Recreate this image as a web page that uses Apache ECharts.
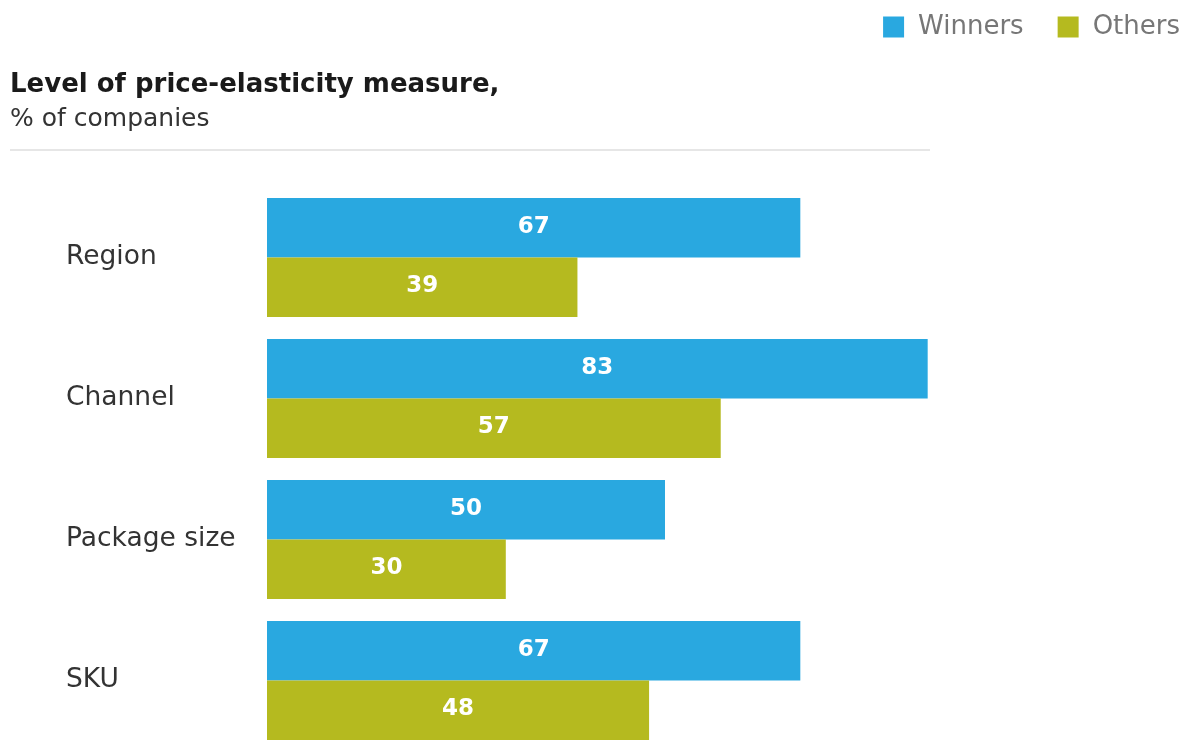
<!DOCTYPE html>
<html>
<head>
<meta charset="utf-8">
<script src="https://cdn.jsdelivr.net/npm/echarts@6/dist/echarts.min.js"></script>
<style>
  html, body { margin: 0; padding: 0; background: #fff; }
  #chart { width: 1197px; height: 751px; }
</style>
</head>
<body>
<div id="chart"></div>
<script>
// Share of companies measuring price elasticity at each level
const categories = ['Region', 'Channel', 'Package size', 'SKU'];
const winners = [67, 83, 50, 67];
const others = [39, 57, 30, 48];
const seriesNames = ['Winners', 'Others'];

const SANS = '"DejaVu Sans", Verdana, sans-serif';
const chart = echarts.init(document.getElementById('chart'), null, { renderer: 'canvas' });

const valueLabel = {
  show: true,
  position: 'inside',
  offset: [0, -1],
  color: '#fff',
  fontFamily: SANS,
  fontWeight: 'bold',
  fontSize: 23
};

chart.setOption({
  backgroundColor: '#fff',
  animation: false,
  title: {
    text: 'Level of price-elasticity measure,',
    subtext: '% of companies',
    left: 5,
    top: 67,
    itemGap: 9,
    textStyle: { fontFamily: SANS, fontWeight: 'bold', fontSize: 26, color: '#1a1a1a' },
    subtextStyle: { fontFamily: SANS, fontSize: 25, color: '#333' }
  },
  legend: {
    data: seriesNames,
    right: 12,
    top: 9,
    itemWidth: 21,
    itemHeight: 21,
    itemGap: 34,
    icon: 'rect',
    textStyle: { fontFamily: SANS, fontSize: 26, color: '#777', padding: [0, 0, 0, 9] }
  },
  graphic: [{
    type: 'line',
    shape: { x1: 10, y1: 150, x2: 930, y2: 150 },
    style: { stroke: '#dedede', lineWidth: 1.5 }
  }],
  grid: { left: 267, top: 187, width: 796, height: 568 },
  xAxis: {
    type: 'value',
    min: 0,
    max: 100,
    show: false
  },
  yAxis: {
    type: 'category',
    data: categories,
    inverse: true,
    axisLine: { show: false },
    axisTick: { show: false },
    splitLine: { show: false },
    axisLabel: {
      align: 'left',
      margin: 201,
      fontFamily: SANS,
      fontSize: 26.5,
      color: '#333'
    }
  },
  series: [
    {
      name: seriesNames[0],
      type: 'bar',
      data: winners,
      barGap: '0%',
      barCategoryGap: '15.5%',
      itemStyle: { color: '#29a8e0' },
      label: valueLabel
    },
    {
      name: seriesNames[1],
      type: 'bar',
      data: others,
      barGap: '0%',
      barCategoryGap: '15.5%',
      itemStyle: { color: '#b5ba1f' },
      label: valueLabel
    }
  ]
});
</script>
</body>
</html>
